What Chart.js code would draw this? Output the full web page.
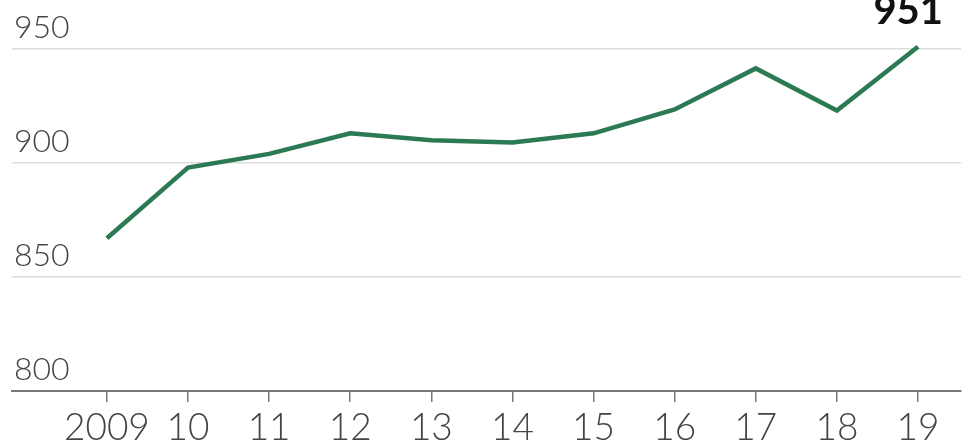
<!DOCTYPE html>
<html>
<head>
<meta charset="utf-8">
<script src="https://cdn.jsdelivr.net/npm/chart.js@4/dist/chart.umd.min.js"></script>
<style>
  html, body { margin: 0; padding: 0; background: #fff; }
  #wrap { width: 966px; height: 447px; position: relative; }
</style>
</head>
<body>
<div id="wrap"><canvas id="chart"></canvas></div>
<script>
// ==============================
// data
// ==============================
const years = [2009, 2010, 2011, 2012, 2013, 2014, 2015, 2016, 2017, 2018, 2019];
const yearLabels = ["2009", "10", "11", "12", "13", "14", "15", "16", "17", "18", "19"];
const values = [867, 898, 904, 913, 910, 909, 913, 923.5, 941.5, 923, 951];
const yTicks = [800, 850, 900, 950];
const lastLabel = "951";

const GREEN = "#2b7a53";

// label on the last point
const endLabel = {
  id: "endLabel",
  afterDatasetsDraw(chart) {
    const meta = chart.getDatasetMeta(0);
    const pt = meta.data[meta.data.length - 1];
    const ctx = chart.ctx;
    ctx.save();
    ctx.font = "bold 40px Lato";
    ctx.fillStyle = "#111";
    ctx.textAlign = "right";
    ctx.textBaseline = "alphabetic";
    ctx.fillText(lastLabel, pt.x + 25, pt.y - 23);
    ctx.restore();
  }
};

new Chart(document.getElementById("chart"), {
  type: "line",
  data: {
    datasets: [{
      data: years.map((y, i) => ({ x: y, y: values[i] })),
      borderColor: GREEN,
      borderWidth: 4.5,
      pointRadius: 0,
      tension: 0,
      clip: false
    }]
  },
  options: {
    responsive: true,
    maintainAspectRatio: false,
    animation: false,
    layout: { padding: { left: 8, right: 5, top: 49, bottom: -8 } },
    scales: {
      x: {
        type: "linear",
        min: 2007.83,
        max: 2019.53,
        afterBuildTicks: scale => { scale.ticks = years.map(v => ({ value: v })); },
        grid: { drawOnChartArea: false, drawTicks: true, tickLength: 11, color: "#777", lineWidth: 1.5 },
        border: { display: true, color: "#777", width: 2 },
        ticks: {
          autoSkip: false,
          maxRotation: 0,
          padding: 8,
          color: "#444",
          font: { family: "Lato", size: 37, weight: 300, lineHeight: 1 },
          callback: v => yearLabels[years.indexOf(v)]
        }
      },
      y: {
        min: 800,
        max: 950,
        afterBuildTicks: scale => { scale.ticks = yTicks.map(v => ({ value: v })); },
        grid: { drawTicks: false, color: "#dcdcdc", lineWidth: 1.5 },
        border: { display: false },
        ticks: {
          mirror: true,
          padding: 2,
          labelOffset: -21,
          color: "#444",
          font: { family: "Lato", size: 32, weight: 300 }
        }
      }
    },
    plugins: {
      legend: { display: false },
      tooltip: { enabled: false }
    }
  },
  plugins: [endLabel]
});
</script>
</body>
</html>
